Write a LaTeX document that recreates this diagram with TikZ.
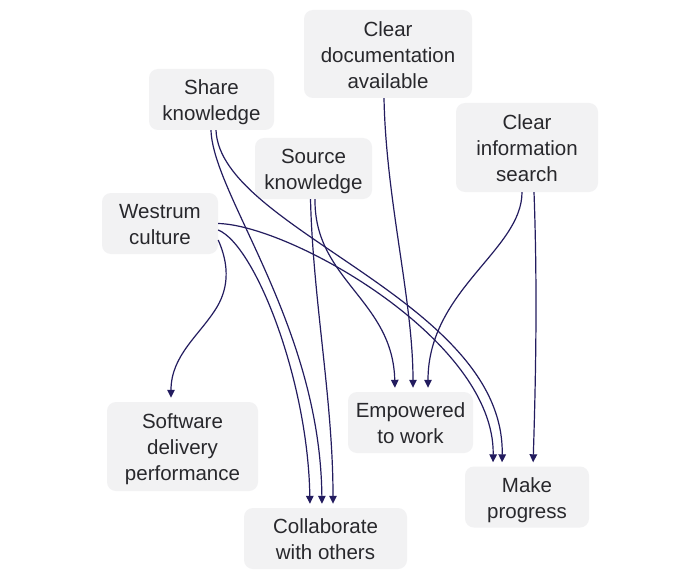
\documentclass[tikz,border=0pt]{standalone}
\usepackage{fontspec}
\setmainfont{Liberation Sans}
\usetikzlibrary{arrows.meta}
\definecolor{edgecol}{RGB}{35,28,95}
\definecolor{boxfill}{RGB}{242,242,243}
\definecolor{txtcol}{RGB}{40,40,44}
\newcommand\topstrx{\rule{0pt}{24.2pt}}
\begin{document}
\begin{tikzpicture}[x=1pt,y=-1pt,
  box/.style={rectangle, rounded corners=9pt, fill=boxfill, draw=none, align=center,
    text=txtcol, inner sep=0pt, font=\fontsize{20.5}{26}\selectfont},
  edge/.style={draw=edgecol, line width=1.2pt, -{Triangle[width=7.5pt,length=8pt]}, shorten >=4pt}]
\useasboundingbox (0,0) rectangle (700,580);
\fill[white] (0,0) rectangle (700,580);

\node[box, minimum width=168pt, minimum height=88pt] (doc) at (388,54) {\topstrx Clear\\documentation\\available\strut};
\node[box, minimum width=125pt, minimum height=61pt] (share) at (211.5,99.5) {\topstrx Share\\knowledge\strut};
\node[box, minimum width=142pt, minimum height=89pt] (info) at (527,147.5) {\topstrx Clear\\information\\search\strut};
\node[box, minimum width=117pt, minimum height=61pt] (source) at (313.5,168.5) {\topstrx Source\\knowledge\strut};
\node[box, minimum width=116pt, minimum height=61pt] (westrum) at (160,223.5) {\topstrx Westrum\\culture\strut};
\node[box, minimum width=151pt, minimum height=89pt] (soft) at (182.5,446.5) {\topstrx Software\\delivery\\performance\strut};
\node[box, minimum width=125pt, minimum height=61pt] (emp) at (410.5,422.5) {\topstrx Empowered\\to work\strut};
\node[box, minimum width=124pt, minimum height=61pt] (make) at (527,497) {\topstrx Make\\progress\strut};
\node[box, minimum width=163pt, minimum height=61pt] (collab) at (325.5,538.5) {\topstrx Collaborate\\with others\strut};

% Westrum culture
\coordinate (wsbend) at (217,307);
\draw[draw=edgecol, line width=1.2pt] ([yshift=-16.5pt]westrum.east) .. controls (228,262) and (230,285) .. (wsbend);
\draw[edge] (wsbend) .. controls (200,335) and (171,355) .. ([xshift=-11.5pt]soft.north);
\draw[edge] ([yshift=-6.5pt]westrum.east) .. controls (255,245) and (308,380) .. ([xshift=-15.5pt]collab.north);
\draw[edge] (westrum.east) .. controls (290,225) and (495,340) .. ([xshift=-34pt]make.north);

% Share knowledge
\draw[edge] ([xshift=-0.5pt]share.south) .. controls (213,195) and (320,325) .. ([xshift=-3.5pt]collab.north);
\draw[edge] ([xshift=4.5pt]share.south) .. controls (220,230) and (505,300) .. ([xshift=-25pt]make.north);

% Source knowledge
\draw[edge] ([xshift=-3pt]source.south) .. controls (313,300) and (333,400) .. ([xshift=7.5pt]collab.north);
\draw[edge] ([xshift=1.5pt]source.south) .. controls (314,280) and (393,300) .. ([xshift=-15.5pt]emp.north);

% Clear documentation
\draw[edge] ([xshift=-4pt]doc.south) .. controls (386,200) and (413,300) .. ([xshift=2.5pt]emp.north);

% Clear information search
\draw[edge] ([xshift=-5pt]info.south) .. controls (522,250) and (428,290) .. ([xshift=17.5pt]emp.north);
\draw[edge] ([xshift=7pt]info.south) .. controls (538,300) and (535,400) .. ([xshift=6pt]make.north);
\end{tikzpicture}
\end{document}
